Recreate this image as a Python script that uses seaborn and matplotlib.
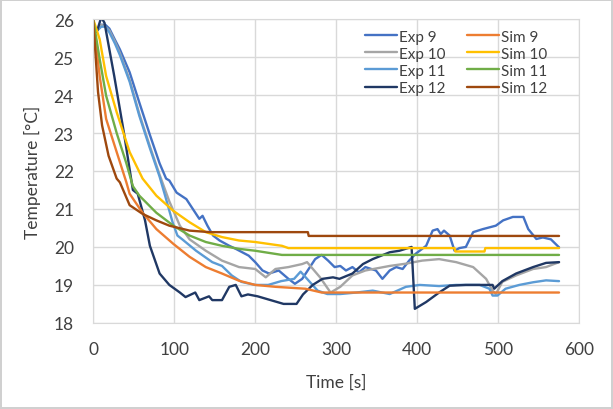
import numpy as np
import pandas as pd
import matplotlib
matplotlib.use('Agg')
import matplotlib.pyplot as plt
import seaborn as sns

# ---- data ----
exp9_t = [0, 5, 10, 15, 20, 27, 33, 45, 57, 70, 82, 90, 94, 103, 115, 123, 131, 135, 141, 148, 156,
          168, 176, 192, 200, 209, 217, 229, 241, 249, 258, 266, 274, 282, 290, 298, 305, 312, 320,
          328, 336, 349, 357, 366, 374, 382, 390, 398, 411, 419, 425, 429, 433, 440, 446, 452, 460,
          469, 481, 497, 506, 518, 531, 537, 547, 555, 565, 575]
exp9_y = [25.6, 25.7, 25.85, 25.85, 25.75, 25.45, 25.2, 24.6, 23.8, 22.95, 22.2, 21.8, 21.75, 21.43,
          21.26, 21.0, 20.74, 20.82, 20.56, 20.3, 20.17, 20.03, 19.95, 19.77, 19.6, 19.38, 19.3, 19.38,
          19.16, 19.03, 19.16, 19.42, 19.68, 19.79, 19.64, 19.47, 19.5, 19.38, 19.47, 19.33, 19.47,
          19.38, 19.16, 19.38, 19.47, 19.42, 19.64, 19.82, 20.03, 20.43, 20.47, 20.34, 20.43, 20.3,
          19.9, 19.97, 20.0, 20.39, 20.47, 20.56, 20.7, 20.79, 20.79, 20.47, 20.21, 20.25, 20.2, 19.99]

exp10_t = [0, 5, 10, 15, 20, 27, 33, 45, 57, 70, 82, 94, 107, 119, 139, 159, 180, 200, 213, 225,
           241, 258, 264, 280, 293, 305, 320, 336, 366, 386, 406, 427, 448, 469, 485, 493, 497, 505,
           522, 543, 559, 575]
exp10_y = [25.6, 25.7, 25.85, 25.8, 25.7, 25.4, 25.1, 24.4, 23.5, 22.65, 21.9, 21.2, 20.56, 20.2,
           19.9, 19.64, 19.47, 19.42, 19.2, 19.42, 19.47, 19.55, 19.6, 19.2, 18.8, 18.95, 19.25,
           19.38, 19.5, 19.56, 19.64, 19.68, 19.6, 19.47, 19.16, 18.85, 18.76, 19.08, 19.25, 19.42,
           19.47, 19.6]

exp11_t = [0, 5, 10, 15, 20, 27, 33, 45, 57, 70, 82, 90, 98, 104, 110, 127, 147, 159, 171, 183,
           200, 216, 232, 248, 256, 264, 277, 289, 305, 325, 345, 366, 386, 403, 427, 448, 477, 489,
           493, 499, 509, 526, 543, 559, 575]
exp11_y = [25.6, 25.7, 25.8, 25.8, 25.65, 25.35, 25.05, 24.35, 23.45, 22.6, 21.85, 21.26, 20.65,
           20.3, 20.2, 19.9, 19.6, 19.5, 19.25, 19.08, 19.0, 19.0, 19.1, 19.16, 19.35, 19.16, 18.85,
           18.76, 18.76, 18.8, 18.85, 18.76, 18.95, 19.0, 18.97, 19.0, 19.0, 18.9, 18.72, 18.72, 18.9,
           19.0, 19.07, 19.12, 19.1]

exp12_t = [0, 5, 10, 14, 26, 38, 49, 55, 64, 70, 82, 94, 107, 114, 126, 131, 143, 147, 159, 168,
           176, 183, 191, 203, 219, 235, 251, 259, 271, 283, 296, 304, 320, 333, 345, 366, 378, 393,
           397, 411, 427, 440, 460, 480, 493, 495, 505, 522, 543, 559, 575]
exp12_y = [25.6, 25.7, 26.05, 25.9, 24.5, 23.0, 21.5, 21.4, 20.7, 20.03, 19.3, 19.0, 18.8, 18.68,
           18.8, 18.6, 18.7, 18.6, 18.6, 18.95, 19.0, 18.7, 18.75, 18.7, 18.6, 18.5, 18.5, 18.75,
           19.0, 19.16, 19.2, 19.16, 19.3, 19.55, 19.68, 19.86, 19.9, 20.0, 18.37, 18.55, 18.8,
           18.98, 19.0, 19.0, 19.0, 18.9, 19.1, 19.3, 19.47, 19.58, 19.6]

sim9_t = [0, 8, 16, 29, 41, 45, 61, 78, 99, 119, 139, 159, 180, 200, 225, 262, 282, 575]
sim9_y = [26.0, 24.5, 23.37, 22.5, 21.7, 21.4, 20.9, 20.47, 20.08, 19.74, 19.47, 19.3, 19.11,
          19.0, 18.95, 18.9, 18.8, 18.8]

sim10_t = [0, 8, 16, 29, 45, 61, 78, 99, 119, 139, 159, 180, 200, 233, 241, 446, 447, 483, 484, 575]
sim10_y = [26.0, 25.47, 24.5, 23.55, 22.5, 21.8, 21.35, 20.95, 20.65, 20.39, 20.26, 20.17, 20.13,
           20.03, 19.97, 19.97, 19.88, 19.88, 19.97, 19.97]

sim11_t = [0, 8, 16, 29, 41, 49, 57, 78, 99, 119, 139, 159, 180, 200, 233, 575]
sim11_y = [26.0, 24.95, 23.98, 23.0, 22.2, 21.6, 21.35, 20.9, 20.56, 20.3, 20.13, 20.03, 19.95,
           19.9, 19.79, 19.79]

sim12_t = [0, 6, 11, 19, 29, 33, 45, 61, 78, 94, 119, 144, 265, 266, 575]
sim12_y = [26.0, 24.08, 23.2, 22.4, 21.8, 21.7, 21.1, 20.87, 20.7, 20.56, 20.43, 20.39, 20.39,
           20.29, 20.29]

series = [
    ('Exp 9', exp9_t, exp9_y, '#4472C4'),
    ('Exp 10', exp10_t, exp10_y, '#A5A5A5'),
    ('Exp 11', exp11_t, exp11_y, '#5B9BD5'),
    ('Exp 12', exp12_t, exp12_y, '#203864'),
    ('Sim 9', sim9_t, sim9_y, '#ED7D31'),
    ('Sim 10', sim10_t, sim10_y, '#FFC000'),
    ('Sim 11', sim11_t, sim11_y, '#70AD47'),
    ('Sim 12', sim12_t, sim12_y, '#9E480E'),
]

sns.set_style('white')
plt.rcParams['font.family'] = ['Lato', 'DejaVu Sans']

fig = plt.figure(figsize=(6.13, 4.10), dpi=100)
fig.patch.set_edgecolor('#D0D0D0')
fig.patch.set_linewidth(1.5)
ax = fig.add_axes([0.152, 0.21, 0.793, 0.741])

for name, t, y, c in series:
    sns.lineplot(x=t, y=y, ax=ax, color=c, label=name, linewidth=1.7, sort=False,
                 estimator=None)

ax.set_xlim(0, 600)
ax.set_ylim(18, 26)
ax.set_xticks(range(0, 601, 100))
ax.set_yticks(range(18, 27))
ax.grid(True, color='#D9D9D9', linewidth=1)
for s in ax.spines.values():
    s.set_color('#D9D9D9')
ax.tick_params(axis='x', length=0, labelsize=12.5, labelcolor='#404040', pad=13)
ax.tick_params(axis='y', length=0, labelsize=12.5, labelcolor='#404040', pad=14)
ax.set_xlabel('Time [s]', fontsize=12.5, color='#404040', labelpad=12)
ax.set_ylabel('Temperature [\u00b0C]', fontsize=12.5, color='#404040', labelpad=9)

ax.legend(ncol=2, frameon=False, loc='upper right', bbox_to_anchor=(0.935, 0.965),
          borderaxespad=0, borderpad=0,
          fontsize=11, handlelength=2.1, handletextpad=0.15, columnspacing=1.4,
          labelspacing=0.2, labelcolor='#404040')

fig.savefig('out.png', dpi=100)
